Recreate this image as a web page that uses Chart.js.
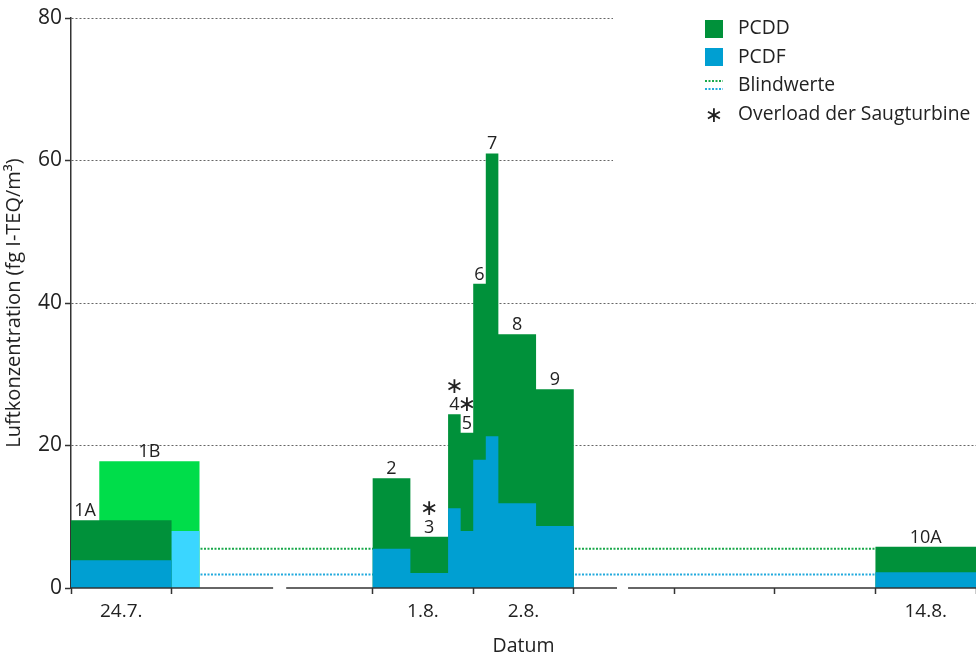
<!DOCTYPE html>
<html>
<head>
<meta charset="utf-8">
<script src="https://cdn.jsdelivr.net/npm/chart.js@4.4.1/dist/chart.umd.min.js"></script>
<style>
  html, body { margin: 0; padding: 0; background: #fff; }
  #wrap { width: 976px; height: 654px; }
</style>
</head>
<body>
<div id="wrap"><canvas id="chart"></canvas></div>
<script>
// sampling periods in days since 24.7. 0:00
const sampleLabels = ['1A', '2', '3', '4', '5', '6', '7', '8', '9', '10A'];
const sampleStart = [0, 3.0, 3.375, 3.75, 3.875, 4.0, 4.125, 4.25, 4.625, 8.0];
const sampleEnd   = [1.0, 3.375, 3.75, 3.875, 4.0, 4.125, 4.25, 4.625, 5.0, 9.0];
const pcdfValues  = [3.9, 5.5, 2.1, 11.2, 8.0, 18.0, 21.3, 11.9, 8.7, 2.2];
const pcddValues  = [5.6, 9.9, 5.1, 13.2, 13.8, 24.7, 39.7, 23.7, 19.2, 3.6];
const overload    = [false, false, true, true, true, false, false, false, false, false];

// second sampler on 24.7. (drawn behind 1A)
const label1B = '1B';
const start1B = 0.28;
const end1B   = 1.28;
const pcdf1B  = 8.0;
const pcdd1B  = 9.8;

// blank values
const blankPCDD = 5.5;
const blankPCDF = 1.9;

const dayTicks = [0, 1, 3, 4, 5, 6, 7, 8, 9];
const dayLabels = { 0.5: '24.7.', 3.5: '1.8.', 4.5: '2.8.', 8.5: '14.8.' };
const axisBreaks = [[2.01, 2.14], [5.43, 5.54]];
const yTicks = [0, 20, 40, 60, 80];

const FONT = "'Open Sans', 'Noto Sans', sans-serif";
const STAR_FONT = "'DejaVu Sans', sans-serif";
const TEXT = '#222';
const GREEN = '#00913A';
const BLUE = '#009FD2';
const GREEN_1B = '#00DD4A';
const BLUE_1B = '#3AD6FF';

// step outline: value held from start to end of each sample, 0 in gaps
function stepPoints(starts, ends, values) {
    let pts = [];
    for (let i = 0; i < values.length; i++) {
        if (i === 0 || starts[i] !== ends[i - 1]) {
            if (i > 0) {
                pts.push({ x: ends[i - 1], y: 0 });
            }
            pts.push({ x: starts[i], y: 0 });
        }
        pts.push({ x: starts[i], y: values[i] });
    }
    pts.push({ x: ends[values.length - 1], y: 0 });
    return pts;
}

const totals = pcdfValues.map((v, i) => v + pcddValues[i]);

function area(label, data, color) {
    return {
        label: label,
        data: data,
        stepped: 'before',
        fill: 'origin',
        backgroundColor: color,
        borderColor: 'transparent',
        borderWidth: 0,
        pointRadius: 0,
        tension: 0
    };
}

function blankLine(value, color) {
    return {
        label: 'Blindwerte',
        data: [{ x: 0, y: value }, { x: 9, y: value }],
        borderColor: color,
        borderWidth: 2,
        borderDash: [2, 1.5],
        pointRadius: 0,
        fill: false
    };
}

const extrasPlugin = {
    id: 'extras',
    beforeDatasetsDraw(chart) {
        // legend area hides the upper grid lines
        const ctx = chart.ctx;
        ctx.save();
        ctx.fillStyle = '#fff';
        ctx.fillRect(613, 0, chart.width - 613, 172);
        ctx.restore();
    },
    afterDatasetsDraw(chart) {
        const ctx = chart.ctx;
        const xs = chart.scales.x;
        const ys = chart.scales.y;
        const y0 = ys.getPixelForValue(0);

        // x axis line with breaks
        ctx.save();
        ctx.strokeStyle = '#333';
        ctx.lineWidth = 1.5;
        let segs = [];
        let from = 0;
        axisBreaks.forEach(b => { segs.push([from, b[0]]); from = b[1]; });
        segs.push([from, 9]);
        segs.forEach(s => {
            ctx.beginPath();
            ctx.moveTo(xs.getPixelForValue(s[0]), y0);
            ctx.lineTo(xs.getPixelForValue(s[1]), y0);
            ctx.stroke();
        });

        // sample labels
        ctx.fillStyle = TEXT;
        ctx.textAlign = 'center';
        const drawLabel = (text, start, end, top, star) => {
            let visEnd = end;
            if (text !== label1B && start1B > start && start1B < end) {
                visEnd = start1B;
            }
            const cx = xs.getPixelForValue((start + visEnd) / 2);
            const base = ys.getPixelForValue(top) - 4;
            ctx.textBaseline = 'alphabetic';
            ctx.font = '18px ' + FONT;
            ctx.fillText(text, cx, base);
            if (star) {
                ctx.textBaseline = 'middle';
                ctx.font = '22px ' + STAR_FONT;
                ctx.fillText('\u2217', cx, base - 23);
            }
        };
        sampleLabels.forEach((lbl, i) => {
            drawLabel(lbl, sampleStart[i], sampleEnd[i], totals[i], overload[i]);
        });
        drawLabel(label1B, start1B, end1B, pcdf1B + pcdd1B, false);

        // legend
        const lx = 705;
        const tx = 738;
        ctx.textAlign = 'left';
        ctx.textBaseline = 'middle';
        ctx.font = '19.3px ' + FONT;
        ctx.fillStyle = GREEN;
        ctx.fillRect(lx, 20, 18, 18);
        ctx.fillStyle = BLUE;
        ctx.fillRect(lx, 48, 18, 18);
        ctx.lineWidth = 2;
        ctx.setLineDash([2, 1.5]);
        ctx.strokeStyle = '#19A84A';
        ctx.beginPath(); ctx.moveTo(lx, 81); ctx.lineTo(lx + 18, 81); ctx.stroke();
        ctx.strokeStyle = '#22AADD';
        ctx.beginPath(); ctx.moveTo(lx, 89); ctx.lineTo(lx + 18, 89); ctx.stroke();
        ctx.setLineDash([]);
        ctx.fillStyle = TEXT;
        ctx.fillText('PCDD', tx, 29);
        ctx.fillText('PCDF', tx, 58);
        ctx.fillText('Blindwerte', tx, 86);
        ctx.fillText('Overload der Saugturbine', tx, 115);
        ctx.textAlign = 'center';
        ctx.font = '22px ' + STAR_FONT;
        ctx.fillText('\u2217', lx + 9, 116);
        ctx.restore();
    }
};

const config = {
    type: 'line',
    data: {
        datasets: [
            area('PCDF', stepPoints(sampleStart, sampleEnd, pcdfValues), BLUE),
            area('PCDD', stepPoints(sampleStart, sampleEnd, totals), GREEN),
            area('PCDF 1B', stepPoints([start1B], [end1B], [pcdf1B]), BLUE_1B),
            area('PCDD 1B', stepPoints([start1B], [end1B], [pcdf1B + pcdd1B]), GREEN_1B),
            blankLine(blankPCDD, '#19A84A'),
            blankLine(blankPCDF, '#22AADD')
        ]
    },
    options: {
        responsive: false,
        animation: false,
        layout: { padding: { top: 18, right: 0, left: 0, bottom: 0 } },
        plugins: {
            legend: { display: false },
            tooltip: { enabled: false }
        },
        scales: {
            x: {
                type: 'linear',
                min: 0,
                max: 9,
                afterBuildTicks: function(scale) {
                    let vals = dayTicks.concat(Object.keys(dayLabels).map(Number));
                    vals.sort((a, b) => a - b);
                    scale.ticks = vals.map(v => ({ value: v }));
                },
                afterFit: function(scale) {
                    scale.height = 66;
                    scale.paddingLeft = 0;
                    scale.paddingRight = 0;
                },
                ticks: {
                    autoSkip: false,
                    maxRotation: 0,
                    padding: 6,
                    color: TEXT,
                    font: { family: FONT, size: 19 },
                    callback: function(value) { return dayLabels[value] || ''; }
                },
                grid: {
                    drawOnChartArea: false,
                    drawTicks: true,
                    tickLength: 6,
                    tickWidth: 1.5,
                    tickColor: ctx => dayTicks.includes(ctx.tick.value) ? '#333' : 'transparent'
                },
                border: { display: false },
                title: {
                    display: true,
                    text: 'Datum',
                    color: TEXT,
                    font: { family: FONT, size: 19.5 },
                    padding: { top: 0, bottom: -4 }
                }
            },
            y: {
                min: 0,
                max: 80,
                afterBuildTicks: function(scale) {
                    scale.ticks = yTicks.map(v => ({ value: v }));
                },
                afterFit: function(scale) { scale.width = 71; },
                ticks: {
                    padding: 3,
                    color: TEXT,
                    font: { family: FONT, size: 21 }
                },
                grid: {
                    color: ctx => ctx.tick.value === 0 ? 'transparent' : '#666',
                    lineWidth: 1,
                    tickLength: 6,
                    tickColor: '#333',
                    tickWidth: 1.5
                },
                border: { display: true, color: '#333', width: 1.5, dash: [2, 2] },
                title: {
                    display: true,
                    text: 'Luftkonzentration (fg I-TEQ/m³)',
                    color: TEXT,
                    font: { family: FONT, size: 20 },
                    padding: { top: 2, bottom: 0 }
                }
            }
        }
    },
    plugins: [extrasPlugin]
};

const canvas = document.getElementById('chart');
canvas.width = 976;
canvas.height = 654;
window.chart = new Chart(canvas, config);
</script>
</body>
</html>
